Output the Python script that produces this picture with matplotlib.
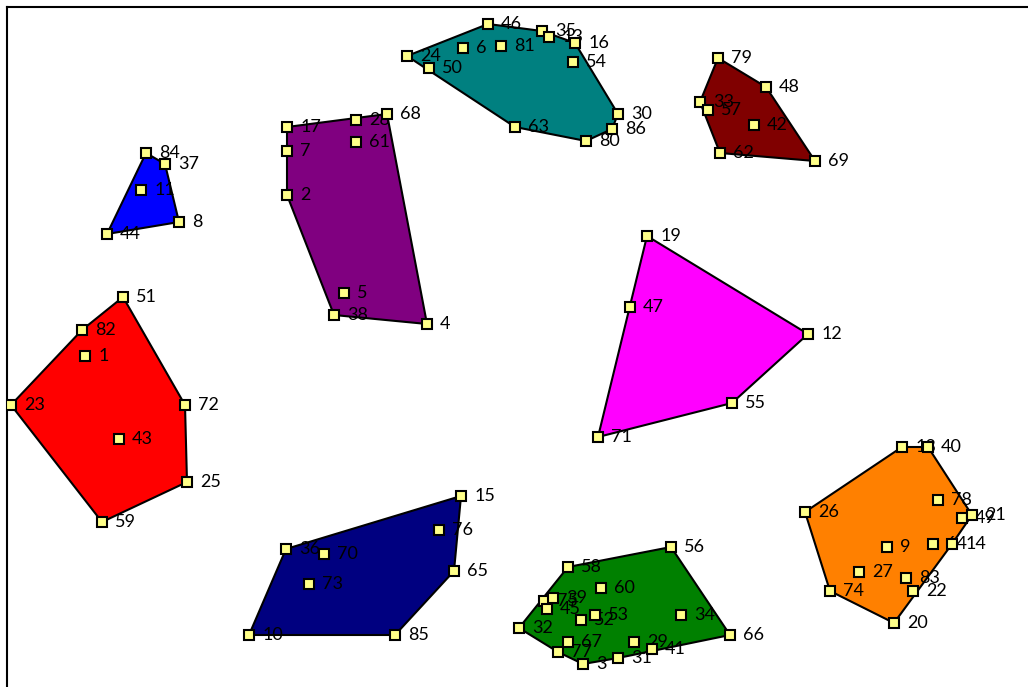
import matplotlib.pyplot as plt
import numpy as np

plt.rcParams['font.family'] = ['Lato', 'DejaVu Sans']

# группы точек (координаты)
colors = ['#008080', '#800000', '#0000ff', '#800080', '#ff0000',
          '#ff00ff', '#000080', '#008000', '#ff8000']

labels = [24, 50, 6, 81, 46, 35, 13, 16, 54, 30, 86, 80, 63,
          79, 48, 33, 57, 42, 62, 69,
          84, 37, 11, 8, 44,
          17, 28, 68, 61, 7, 2, 5, 38, 4,
          51, 82, 1, 23, 72, 43, 25, 59,
          19, 47, 12, 55, 71,
          15, 76, 36, 70, 65, 73, 10, 85,
          56, 58, 60, 75, 39, 45, 53, 52, 34, 32, 67, 29, 41, 77, 66, 3, 31,
          18, 40, 78, 26, 49, 21, 9, 64, 14, 27, 83, 22, 74, 20]
px = [407, 429, 463, 501, 488, 542, 549, 575, 573, 618, 612, 586, 515,
      718, 766, 700, 708, 754, 720, 815,
      146, 165, 141, 179, 107,
      287, 356, 387, 356, 287, 287, 344, 334, 427,
      123, 82, 85, 11, 185, 119, 187, 102,
      647, 630, 808, 732, 598,
      461, 439, 286, 324, 454, 309, 249, 395,
      671, 568, 601, 544, 553, 547, 595, 581, 681, 519, 568, 634, 652, 558, 730, 583, 618,
      902, 928, 938, 805, 962, 972, 887, 933, 952, 859, 906, 913, 830, 894]
py = [56, 68, 48, 46, 24, 31, 37, 43, 62, 114, 129, 141, 127,
      58, 87, 102, 110, 125, 153, 161,
      153, 164, 190, 222, 234,
      127, 120, 114, 142, 151, 195, 293, 315, 324,
      297, 330, 356, 405, 405, 439, 482, 522,
      236, 307, 334, 403, 437,
      496, 530, 549, 554, 571, 584, 635, 635,
      547, 567, 588, 601, 598, 609, 615, 620, 615, 628, 642, 642, 649, 652, 635, 664, 658,
      447, 447, 500, 512, 518, 515, 547, 544, 544, 572, 578, 591, 591, 623]
group = [0] * 13 + [1] * 7 + [2] * 5 + [3] * 9 + [4] * 8 + [5] * 5 + [6] * 8 + [7] * 17 + [8] * 14

px = np.array(px, dtype=float)
py = np.array(py, dtype=float)
group = np.array(group)


def cross(o, a, b):
    return (a[0] - o[0]) * (b[1] - o[1]) - (a[1] - o[1]) * (b[0] - o[0])


def hull(pts):
    pts = sorted(map(tuple, pts))
    lower = []
    for p in pts:
        while len(lower) >= 2 and cross(lower[-2], lower[-1], p) <= 0:
            lower.pop()
        lower.append(p)
    upper = []
    for p in reversed(pts):
        while len(upper) >= 2 and cross(upper[-2], upper[-1], p) <= 0:
            upper.pop()
        upper.append(p)
    return np.array(lower[:-1] + upper[:-1])


fig = plt.figure(figsize=(10.28, 6.87), dpi=100)
ax = fig.add_axes([7 / 1028, 0, 1 - 7 / 1028, 1 - 7 / 687])

for g, c in enumerate(colors):
    m = group == g
    h = hull(np.column_stack([px[m], py[m]]))
    ax.fill(h[:, 0], h[:, 1], facecolor=c, edgecolor='black', linewidth=1.5, zorder=1)

for lab, x, y in zip(labels, px, py):
    ax.annotate(str(lab), (x, y), xytext=(9.5, 0), textcoords='offset points',
                va='center', ha='left', fontsize=13, zorder=2)

ax.plot(px, py, 's', markersize=7, markerfacecolor='#ffff88',
        markeredgecolor='black', markeredgewidth=1.5, linestyle='none', zorder=3)

ax.set_xlim(7, 1028)
ax.set_ylim(687, 7)
ax.set_xticks([])
ax.set_yticks([])
ax.spines['right'].set_visible(False)
ax.spines['bottom'].set_visible(False)
ax.spines['left'].set_linewidth(1.5)
ax.spines['top'].set_linewidth(1.5)

fig.savefig('out.png', dpi=100)
